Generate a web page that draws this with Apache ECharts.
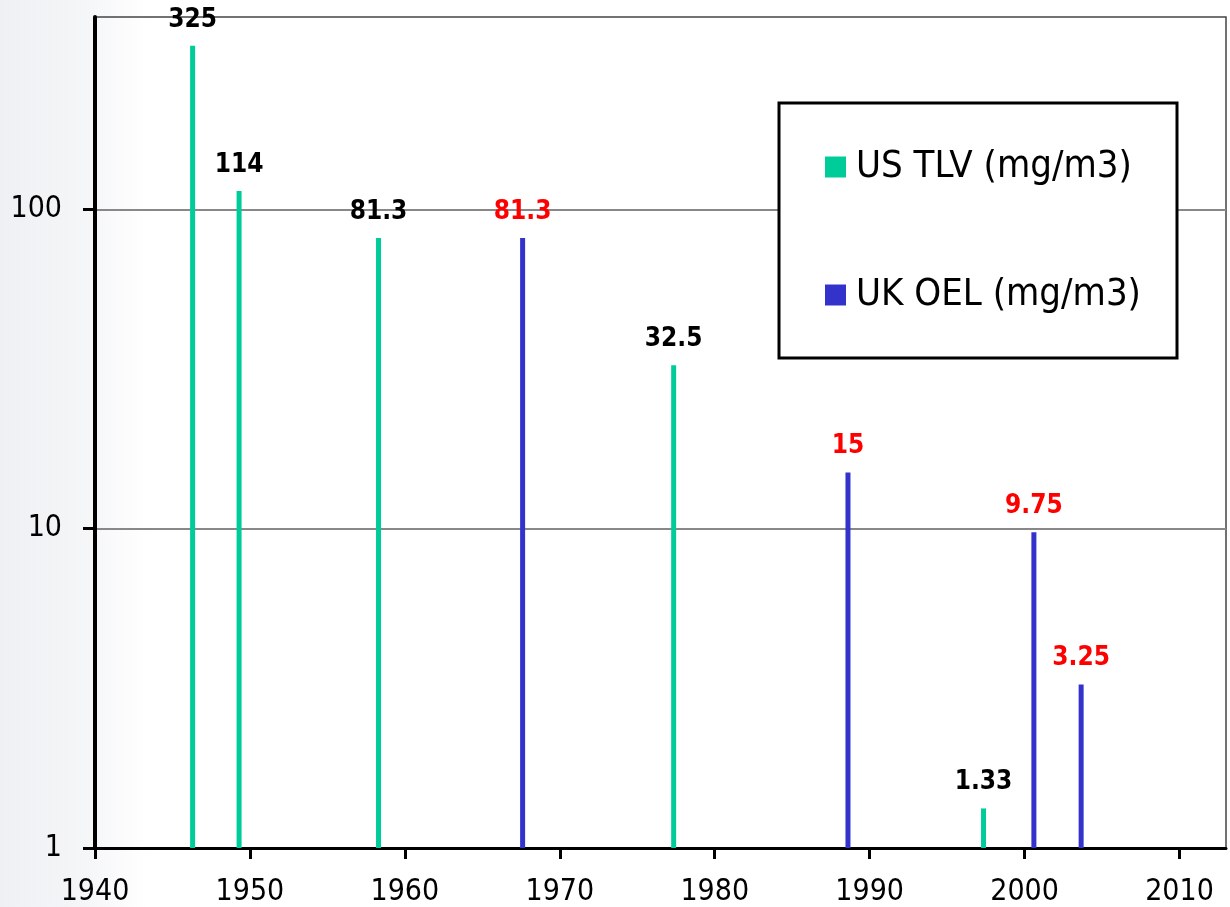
<!DOCTYPE html>
<html>
<head>
<meta charset="utf-8">
<script src="https://cdn.jsdelivr.net/npm/echarts@6/dist/echarts.min.js"></script>
<style>
html, body { margin: 0; padding: 0; }
#main { width: 1230px; height: 907px; }
</style>
</head>
<body>
<div id="main"></div>
<script>
var usYears = [1946.3, 1949.3, 1958.3, 1977.35, 1997.35];
var usValues = [325, 114, 81.3, 32.5, 1.33];
var ukYears = [1967.6, 1988.6, 2000.6, 2003.65];
var ukValues = [81.3, 15, 9.75, 3.25];
var xTicks = [1940, 1950, 1960, 1970, 1980, 1990, 2000, 2010];
var yTicks = [1, 10, 100];

var fontFam = '"DejaVu Sans Condensed", "DejaVu Sans", sans-serif';

function pairs(xs, ys) {
    return xs.map(function (x, i) { return [x, ys[i]]; });
}

var myChart = echarts.init(document.getElementById('main'));

option = {
    backgroundColor: {
        type: 'linear', x: 0, y: 0, x2: 1, y2: 0,
        colorStops: [
            { offset: 0, color: '#eef0f3' },
            { offset: 0.07, color: '#f5f6f8' },
            { offset: 0.12, color: '#ffffff' },
            { offset: 1, color: '#ffffff' }
        ]
    },
    animation: false,
    grid: {
        left: 95, right: 4, top: 17, bottom: 57,
        show: true,
        borderColor: '#444',
        borderWidth: 1.5
    },
    xAxis: {
        type: 'value',
        min: 1940,
        max: 2013,
        axisLine: { lineStyle: { color: '#000', width: 3 } },
        axisTick: { show: true, length: 11, lineStyle: { color: '#000', width: 3 }, customValues: xTicks },
        axisLabel: {
            fontSize: 30, color: '#000', fontFamily: fontFam, margin: 29, customValues: xTicks,
            formatter: function (v) { return String(v); }
        },
        splitLine: { show: false }
    },
    yAxis: {
        type: 'log',
        logBase: 10,
        min: 1,
        max: 400,
        axisLine: { show: true, lineStyle: { color: '#000', width: 4 } },
        axisTick: { show: true, length: 12, lineStyle: { color: '#000', width: 3 }, customValues: yTicks },
        axisLabel: { fontSize: 30, color: '#000', fontFamily: fontFam, margin: 33, customValues: yTicks },
        splitLine: { show: true, lineStyle: { color: '#888', width: 2 } }
    },
    graphic: [{
        type: 'rect',
        z: 50,
        shape: { x: 779, y: 103, width: 398, height: 255 },
        style: { fill: '#fff', stroke: '#000', lineWidth: 3 }
    }],
    legend: {
        orient: 'vertical',
        left: 825,
        top: 147,
        padding: 0,
        z: 60,
        itemWidth: 21,
        itemHeight: 21,
        itemGap: 88,
        icon: 'rect',
        textStyle: { fontSize: 38, lineHeight: 40, color: '#000', fontFamily: fontFam, padding: [0, 0, 0, 5] },
        data: ['US TLV (mg/m3)', 'UK OEL (mg/m3)']
    },
    series: [{
        name: 'US TLV (mg/m3)',
        type: 'bar',
        barWidth: 5,
        barGap: '-100%',
        itemStyle: { color: '#00cc99' },
        label: {
            show: true, position: 'top', distance: 13,
            fontSize: 26, fontWeight: 'bold', color: '#000', fontFamily: fontFam,
            formatter: function (p) { return p.value[1]; }
        },
        data: pairs(usYears, usValues)
    }, {
        name: 'UK OEL (mg/m3)',
        type: 'bar',
        barWidth: 5,
        barGap: '-100%',
        itemStyle: { color: '#3333cc' },
        label: {
            show: true, position: 'top', distance: 13,
            fontSize: 26, fontWeight: 'bold', color: '#ff0000', fontFamily: fontFam,
            formatter: function (p) { return p.value[1]; }
        },
        data: pairs(ukYears, ukValues)
    }]
};

if (option && typeof option === "object") {
    myChart.setOption(option, true);
}
</script>
</body>
</html>
